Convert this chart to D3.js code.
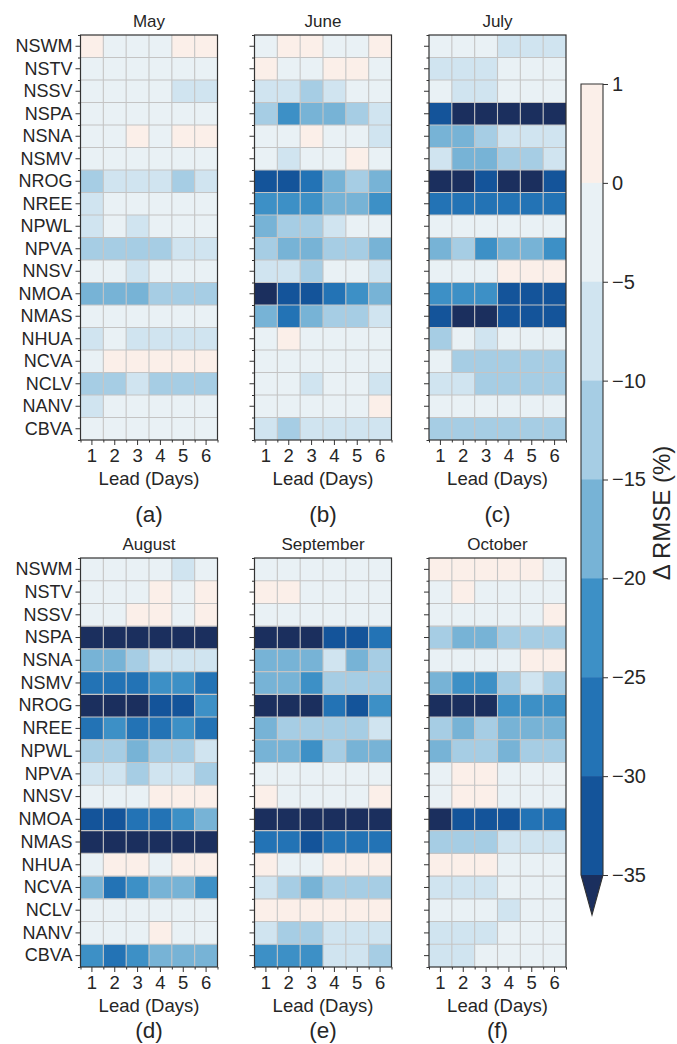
<!DOCTYPE html>
<html>
<head>
<meta charset="utf-8">
<script src="https://cdn.jsdelivr.net/npm/d3@7/dist/d3.min.js"></script>
<style>
  html, body { margin: 0; padding: 0; background: #fff; }
  svg { display: block; }
  text { font-family: "Liberation Sans", Arial, Helvetica, sans-serif; fill: #262626; }
</style>
</head>
<body>
<script>
// Stations (rows), lead days (columns) and monthly panels
const stations = ["NSWM","NSTV","NSSV","NSPA","NSNA","NSMV","NROG","NREE","NPWL",
                  "NPVA","NNSV","NMOA","NMAS","NHUA","NCVA","NCLV","NANV","CBVA"];
const leads = [1, 2, 3, 4, 5, 6];
const months = ["May", "June", "July", "August", "September", "October"];
const panelLetters = ["(a)", "(b)", "(c)", "(d)", "(e)", "(f)"];

// Δ RMSE (%) per station (row) and lead day (column)
const mayValues = [
  [0.5,-2.5,-2.5,-2.5,0.5,0.5],
  [-2.5,-2.5,-2.5,-2.5,-2.5,-2.5],
  [-2.5,-2.5,-2.5,-2.5,-7.5,-7.5],
  [-2.5,-2.5,-2.5,-2.5,-2.5,-2.5],
  [-2.5,-2.5,0.5,-2.5,0.5,0.5],
  [-2.5,-2.5,-2.5,-2.5,-2.5,-2.5],
  [-12.5,-7.5,-7.5,-7.5,-12.5,-7.5],
  [-7.5,-2.5,-2.5,-2.5,-2.5,-2.5],
  [-7.5,-2.5,-7.5,-2.5,-2.5,-2.5],
  [-12.5,-12.5,-12.5,-12.5,-7.5,-7.5],
  [-2.5,-2.5,-7.5,-2.5,-2.5,-2.5],
  [-17.5,-17.5,-17.5,-12.5,-12.5,-12.5],
  [-2.5,-2.5,-2.5,-2.5,-2.5,-2.5],
  [-7.5,-2.5,-7.5,-7.5,-7.5,-7.5],
  [-2.5,0.5,0.5,0.5,0.5,0.5],
  [-12.5,-12.5,-7.5,-12.5,-12.5,-12.5],
  [-7.5,-2.5,-2.5,-2.5,-2.5,-2.5],
  [-2.5,-2.5,-2.5,-2.5,-2.5,-2.5]
];
const juneValues = [
  [-2.5,0.5,0.5,-2.5,-2.5,0.5],
  [0.5,-2.5,-2.5,0.5,0.5,-2.5],
  [-7.5,-7.5,-12.5,-7.5,-2.5,-2.5],
  [-12.5,-22.5,-17.5,-17.5,-12.5,-7.5],
  [-2.5,-2.5,0.5,-2.5,-2.5,-7.5],
  [-2.5,-7.5,-2.5,-2.5,0.5,-2.5],
  [-32.5,-32.5,-27.5,-17.5,-12.5,-17.5],
  [-22.5,-22.5,-22.5,-17.5,-17.5,-22.5],
  [-17.5,-12.5,-12.5,-7.5,-2.5,-2.5],
  [-12.5,-17.5,-17.5,-12.5,-12.5,-17.5],
  [-7.5,-7.5,-12.5,-2.5,-2.5,-7.5],
  [-38,-32.5,-32.5,-27.5,-22.5,-17.5],
  [-17.5,-27.5,-17.5,-12.5,-12.5,-7.5],
  [-2.5,0.5,-2.5,-2.5,-2.5,-2.5],
  [-2.5,-2.5,-2.5,-2.5,-2.5,-2.5],
  [-2.5,-2.5,-7.5,-2.5,-2.5,-7.5],
  [-2.5,-2.5,-2.5,-2.5,-2.5,0.5],
  [-7.5,-12.5,-7.5,-7.5,-7.5,-7.5]
];
const julyValues = [
  [-2.5,-2.5,-2.5,-7.5,-7.5,-7.5],
  [-7.5,-7.5,-7.5,-2.5,-2.5,-2.5],
  [-2.5,-7.5,-7.5,-2.5,-2.5,-2.5],
  [-32.5,-38,-38,-38,-38,-38],
  [-17.5,-17.5,-12.5,-7.5,-7.5,-7.5],
  [-7.5,-17.5,-17.5,-12.5,-12.5,-7.5],
  [-38,-38,-32.5,-38,-38,-32.5],
  [-27.5,-27.5,-27.5,-27.5,-27.5,-27.5],
  [-2.5,-2.5,-2.5,-2.5,-2.5,-2.5],
  [-17.5,-12.5,-22.5,-17.5,-17.5,-22.5],
  [-2.5,-2.5,-2.5,0.5,0.5,0.5],
  [-22.5,-22.5,-22.5,-32.5,-32.5,-32.5],
  [-32.5,-38,-38,-32.5,-32.5,-32.5],
  [-12.5,-2.5,-7.5,-2.5,-2.5,-2.5],
  [-2.5,-12.5,-12.5,-12.5,-12.5,-12.5],
  [-7.5,-7.5,-12.5,-12.5,-12.5,-12.5],
  [-2.5,-2.5,-2.5,-2.5,-2.5,-2.5],
  [-12.5,-12.5,-12.5,-12.5,-12.5,-12.5]
];
const augustValues = [
  [-2.5,-2.5,-2.5,-2.5,-7.5,-2.5],
  [-2.5,-2.5,-2.5,0.5,-2.5,0.5],
  [-2.5,-2.5,0.5,0.5,-2.5,0.5],
  [-38,-38,-38,-38,-38,-38],
  [-17.5,-17.5,-12.5,-7.5,-7.5,-7.5],
  [-27.5,-27.5,-27.5,-22.5,-22.5,-27.5],
  [-38,-38,-38,-32.5,-32.5,-22.5],
  [-27.5,-22.5,-27.5,-27.5,-22.5,-27.5],
  [-12.5,-12.5,-17.5,-12.5,-12.5,-7.5],
  [-7.5,-7.5,-12.5,-7.5,-7.5,-12.5],
  [-2.5,-2.5,-2.5,0.5,0.5,0.5],
  [-32.5,-32.5,-27.5,-27.5,-22.5,-17.5],
  [-38,-38,-38,-38,-38,-38],
  [-2.5,0.5,0.5,-2.5,0.5,0.5],
  [-17.5,-27.5,-22.5,-17.5,-17.5,-22.5],
  [-2.5,-2.5,-2.5,-2.5,-2.5,-2.5],
  [-2.5,-2.5,-2.5,0.5,-2.5,-2.5],
  [-22.5,-27.5,-22.5,-17.5,-17.5,-17.5]
];
const septemberValues = [
  [-2.5,-2.5,-2.5,-2.5,-2.5,-2.5],
  [0.5,0.5,-2.5,-2.5,-2.5,-2.5],
  [-2.5,-2.5,-2.5,-2.5,-2.5,-2.5],
  [-38,-38,-38,-32.5,-32.5,-27.5],
  [-17.5,-17.5,-17.5,-7.5,-17.5,-12.5],
  [-17.5,-17.5,-22.5,-12.5,-12.5,-12.5],
  [-38,-38,-38,-27.5,-32.5,-22.5],
  [-17.5,-12.5,-12.5,-12.5,-12.5,-7.5],
  [-17.5,-17.5,-22.5,-12.5,-17.5,-17.5],
  [-2.5,-2.5,-2.5,-2.5,-2.5,-2.5],
  [0.5,-2.5,-2.5,-2.5,-2.5,0.5],
  [-38,-38,-38,-38,-38,-38],
  [-27.5,-27.5,-32.5,-27.5,-27.5,-27.5],
  [0.5,-2.5,-2.5,0.5,0.5,0.5],
  [-7.5,-12.5,-17.5,-12.5,-12.5,-12.5],
  [0.5,0.5,0.5,0.5,0.5,0.5],
  [-7.5,-12.5,-12.5,-7.5,-7.5,-7.5],
  [-22.5,-22.5,-22.5,-7.5,-7.5,-12.5]
];
const octoberValues = [
  [0.5,0.5,0.5,0.5,0.5,-2.5],
  [-2.5,0.5,-2.5,-2.5,-2.5,-2.5],
  [-2.5,-2.5,-2.5,-2.5,-2.5,0.5],
  [-12.5,-17.5,-17.5,-12.5,-12.5,-12.5],
  [-2.5,-2.5,-2.5,-2.5,0.5,0.5],
  [-17.5,-22.5,-22.5,-12.5,-7.5,-12.5],
  [-38,-38,-38,-22.5,-22.5,-22.5],
  [-12.5,-17.5,-12.5,-17.5,-17.5,-17.5],
  [-17.5,-12.5,-12.5,-17.5,-12.5,-12.5],
  [-2.5,0.5,0.5,-2.5,-2.5,-2.5],
  [-2.5,0.5,0.5,-2.5,-2.5,-2.5],
  [-38,-32.5,-32.5,-32.5,-27.5,-27.5],
  [-12.5,-12.5,-12.5,-7.5,-7.5,-7.5],
  [0.5,0.5,0.5,-2.5,-2.5,-2.5],
  [-7.5,-7.5,-7.5,-2.5,-2.5,-2.5],
  [-2.5,-2.5,-2.5,-7.5,-2.5,-2.5],
  [-7.5,-7.5,-7.5,-2.5,-2.5,-2.5],
  [-7.5,-7.5,-2.5,-2.5,-2.5,-2.5]
];
const panelValues = [mayValues, juneValues, julyValues, augustValues, septemberValues, octoberValues];

// Colour levels: boundaries and colours (from below -35 up to 1)
const levelBounds = [-35, -30, -25, -20, -15, -10, -5, 0];
const colorbarTicks = [1, 0, -5, -10, -15, -20, -25, -30, -35];
const levelColors = ["#1b2f5e", "#14549a", "#2373b5", "#3d90c6", "#77b3d6",
                     "#a6cde4", "#d0e4f0", "#e9f1f5", "#fbefe9"];

const W = 677, H = 1044;
const svg = d3.select("body").append("svg").attr("width", W).attr("height", H);

const color = d3.scaleThreshold().domain(levelBounds).range(levelColors);

const panelW = 137;
const colX = [80.5, 254.5, 429];
// per panel row: top edge, height, and baseline offsets of the lettered caption
const rowY = [35, 558];
const rowH = [405, 409];
const letterDy = [82, 71];
const ink = "#262626";
const spine = "#333333";

panelValues.forEach((vals, i) => {
  const pr = Math.floor(i / 3);
  const x0 = colX[i % 3], y0 = rowY[pr], panelH = rowH[pr];
  const g = svg.append("g").attr("transform", `translate(${x0},${y0})`);

  const x = d3.scaleBand().domain(leads).range([0, panelW]);
  const y = d3.scaleBand().domain(stations).range([0, panelH]);

  const cells = [];
  vals.forEach((row, r) => row.forEach((v, c) => cells.push({ s: stations[r], l: leads[c], v })));

  g.selectAll("rect.cell").data(cells).join("rect")
    .attr("class", "cell")
    .attr("x", d => x(d.l)).attr("y", d => y(d.s))
    .attr("width", x.bandwidth()).attr("height", y.bandwidth())
    .attr("fill", d => color(d.v));

  // cell grid
  const grid = g.append("g").attr("stroke", "#c4c4c4").attr("stroke-width", 1.1);
  d3.range(1, leads.length).forEach(k => {
    const xx = k * x.step();
    grid.append("line").attr("x1", xx).attr("x2", xx).attr("y1", 0).attr("y2", panelH);
  });
  d3.range(1, stations.length).forEach(k => {
    const yy = k * y.step();
    grid.append("line").attr("x1", 0).attr("x2", panelW).attr("y1", yy).attr("y2", yy);
  });

  // frame
  g.append("rect").attr("width", panelW).attr("height", panelH)
    .attr("fill", "none").attr("stroke", spine).attr("stroke-width", 1.2);

  // minor ticks at cell boundaries
  const yMinor = d3.scaleLinear().domain([0, stations.length]).range([0, panelH]);
  const xMinor = d3.scaleLinear().domain([0, leads.length]).range([0, panelW]);
  const yMinorAxis = g.append("g")
    .call(d3.axisLeft(yMinor).tickValues(d3.range(stations.length + 1)).tickSize(2.5).tickFormat(""));
  const xMinorAxis = g.append("g").attr("transform", `translate(0,${panelH})`)
    .call(d3.axisBottom(xMinor).tickValues(d3.range(leads.length + 1)).tickSize(2.5).tickFormat(""));

  // major ticks at cell centres
  const yAxis = g.append("g")
    .call(d3.axisLeft(y).tickSize(5).tickPadding(3)
      .tickFormat(i % 3 === 0 ? (d => d) : ""));
  const xAxis = g.append("g").attr("transform", `translate(0,${panelH})`)
    .call(d3.axisBottom(x).tickSize(5).tickPadding(4));

  [yMinorAxis, xMinorAxis, yAxis, xAxis].forEach(a => {
    a.select(".domain").remove();
    a.selectAll(".tick line").attr("stroke", spine).attr("stroke-width", 1);
  });
  yAxis.selectAll("text").attr("font-size", 18).style("fill", ink);
  xAxis.selectAll("text").attr("font-size", 18.5).style("fill", ink);

  g.append("text").attr("x", panelW / 2).attr("y", -8)
    .attr("text-anchor", "middle").attr("font-size", 17).text(months[i]);
  g.append("text").attr("x", panelW / 2).attr("y", panelH + 45)
    .attr("text-anchor", "middle").attr("font-size", 18.5).text("Lead (Days)");
  g.append("text").attr("x", panelW / 2).attr("y", panelH + letterDy[pr])
    .attr("text-anchor", "middle").attr("font-size", 22.5).text(panelLetters[i]);
});

// Colour bar with equal-height bins and a lower extension triangle
const cbX = 581, cbW = 22, cbTop = 84, cbBot = 875, cbTip = 915;
const cb = svg.append("g").attr("transform", `translate(${cbX},0)`);
const cbScale = d3.scalePoint().domain(colorbarTicks).range([cbTop, cbBot]);

const bins = d3.pairs(colorbarTicks).map(([hi, lo]) => ({ hi, lo }));
cb.selectAll("rect.bin").data(bins).join("rect")
  .attr("class", "bin")
  .attr("x", 0).attr("width", cbW)
  .attr("y", d => cbScale(d.hi)).attr("height", d => cbScale(d.lo) - cbScale(d.hi) + 0.5)
  .attr("fill", d => color((d.hi + d.lo) / 2));
cb.append("path")
  .attr("d", `M0,${cbBot}L${cbW},${cbBot}L${cbW / 2},${cbTip}Z`)
  .attr("fill", color(-40));
cb.append("path")
  .attr("d", `M0,${cbTop}L${cbW},${cbTop}L${cbW},${cbBot}L${cbW / 2},${cbTip}L0,${cbBot}Z`)
  .attr("fill", "none").attr("stroke", spine).attr("stroke-width", 1.1);

const cbAxis = cb.append("g").attr("transform", `translate(${cbW},0)`)
  .call(d3.axisRight(cbScale).tickSize(5).tickPadding(4).tickFormat(d => d3.format("")(d)));
cbAxis.select(".domain").remove();
cbAxis.selectAll(".tick line").attr("stroke", spine);
cbAxis.selectAll("text").attr("font-size", 20).style("fill", ink);

svg.append("text")
  .attr("transform", `translate(670,513) rotate(-90)`)
  .attr("text-anchor", "middle").attr("font-size", 24)
  .text("Δ RMSE (%)");
</script>
</body>
</html>
